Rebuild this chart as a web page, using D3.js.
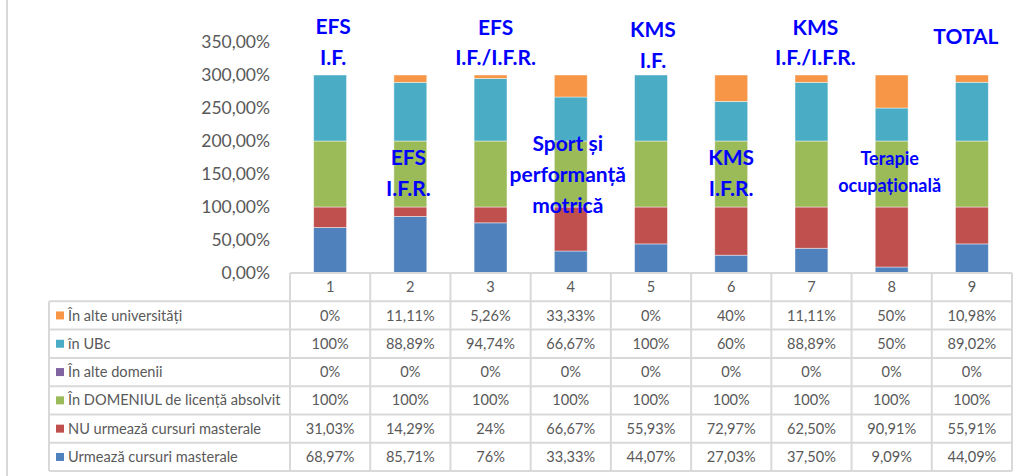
<!DOCTYPE html>
<html>
<head>
<meta charset="utf-8">
<script src="https://cdn.jsdelivr.net/npm/d3@7"></script>
<style>
  body { margin: 0; background: #fff; }
  text { font-family: Lato, "Open Sans", sans-serif; }
</style>
</head>
<body>
<div id="d3-container"></div>
<script>
/**
 * DATA
 * */
const categories = ["1", "2", "3", "4", "5", "6", "7", "8", "9"];

// stacking order, bottom to top
const seriesNames = [
  "Urmează cursuri masterale",
  "NU urmează cursuri masterale",
  "În DOMENIUL de licență absolvit",
  "În alte domenii",
  "în UBc",
  "În alte universități"
];

const urmeaza = [68.97, 85.71, 76, 33.33, 44.07, 27.03, 37.5, 9.09, 44.09];
const nuUrmeaza = [31.03, 14.29, 24, 66.67, 55.93, 72.97, 62.5, 90.91, 55.91];
const inDomeniu = [100, 100, 100, 100, 100, 100, 100, 100, 100];
const alteDomenii = [0, 0, 0, 0, 0, 0, 0, 0, 0];
const inUBc = [100, 88.89, 94.74, 66.67, 100, 60, 88.89, 50, 89.02];
const alteUniv = [0, 11.11, 5.26, 33.33, 0, 40, 11.11, 50, 10.98];

const seriesValues = [urmeaza, nuUrmeaza, inDomeniu, alteDomenii, inUBc, alteUniv];

const yTicks = [0, 50, 100, 150, 200, 250, 300, 350];

// blue annotation text over each column
const annotations = [
  ["EFS", "I.F."],
  ["EFS", "I.F.R."],
  ["EFS", "I.F./I.F.R."],
  ["Sport și", "performanță", "motrică"],
  ["KMS", "I.F."],
  ["KMS", "I.F.R."],
  ["KMS", "I.F./I.F.R."],
  ["Terapie", "ocupațională"],
  ["TOTAL"]
];

/**
 * CONSTANTS
 * */
const width = 1033,
  height = 476,
  plotLeft = 290,
  plotRight = 1012,
  plotTop = 42,
  plotBottom = 273,
  tableLeft = 49,
  rowH = 28.3,
  tableFont = 14.6;

const colors = ["#4F81BD", "#C0504D", "#9BBB59", "#8064A2", "#4BACC6", "#F79646"];
const gridColor = "#d9d9d9";
const textColor = "#595959";

// annotation placement: [x offset from column centre, centre y of first line, line gap, font size]
const annoLayout = [
  [3, 26, 31, 21],
  [-2, 157, 31, 21],
  [5, 27, 30, 21],
  [-3, 143, 31, 21],
  [2, 29, 31, 21],
  [0, 157, 31, 21],
  [4, 27, 30, 21],
  [-2, 159, 27, 18],
  [-6, 36, 31, 21]
];

const svg = d3.select("#d3-container")
  .append("svg")
  .attr("width", width)
  .attr("height", height);

// left frame line
svg.append("line")
  .attr("x1", 7).attr("x2", 7)
  .attr("y1", 0).attr("y2", height)
  .attr("stroke", gridColor)
  .attr("stroke-width", 2);

/**
 * SCALES
 * */
const xScale = d3.scaleBand()
  .domain(categories)
  .range([plotLeft, plotRight])
  .paddingInner(0.59)
  .paddingOuter(0.295);

const yScale = d3.scaleLinear()
  .domain([0, 350])
  .range([plotBottom, plotTop]);

const fmtAxis = d => d.toFixed(2).replace(".", ",") + "%";
const fmtCell = v => (Number.isInteger(v) ? v : v.toFixed(2).replace(".", ",")) + "%";

// Y AXIS
const yAxis = d3.axisLeft(yScale)
  .tickValues(yTicks)
  .tickSize(0)
  .tickPadding(20)
  .tickFormat(fmtAxis);

svg.append("g")
  .attr("class", "axis y-axis")
  .attr("transform", `translate(${plotLeft},0)`)
  .call(yAxis)
  .call(g => g.select(".domain").remove())
  .selectAll("text")
  .attr("fill", textColor)
  .attr("font-size", 17.5);

/**
 * STACKED BARS
 * */
const rows = categories.map((c, i) => {
  const r = { cat: c };
  seriesNames.forEach((s, j) => r[s] = seriesValues[j][i]);
  return r;
});

const stacked = d3.stack().keys(seriesNames)(rows);

svg.append("g")
  .selectAll("g")
  .data(stacked)
  .join("g")
  .attr("fill", (d, i) => colors[i])
  .selectAll("rect")
  .data(d => d)
  .join("rect")
  .attr("x", d => xScale(d.data.cat))
  .attr("width", xScale.bandwidth())
  .attr("y", d => yScale(d[1]))
  .attr("height", d => yScale(d[0]) - yScale(d[1]))
  .attr("stroke", "#fff")
  .attr("stroke-opacity", 0.55)
  .attr("stroke-width", d => d[1] > d[0] ? 0.8 : 0);

/**
 * DATA TABLE
 * */
const step = xScale.step();
const tableTop = plotBottom + rowH;
const tableBottom = tableTop + rowH * seriesNames.length;
const table = svg.append("g").attr("class", "data-table");

// horizontal lines
table.append("line")
  .attr("x1", plotLeft).attr("x2", plotRight)
  .attr("y1", plotBottom).attr("y2", plotBottom);
d3.range(seriesNames.length + 1).forEach(i => {
  table.append("line")
    .attr("x1", tableLeft).attr("x2", plotRight)
    .attr("y1", tableTop + i * rowH).attr("y2", tableTop + i * rowH);
});
// vertical lines
table.append("line")
  .attr("x1", tableLeft).attr("x2", tableLeft)
  .attr("y1", tableTop).attr("y2", tableBottom);
d3.range(categories.length + 1).forEach(i => {
  const x = plotLeft + i * step;
  table.append("line")
    .attr("x1", x).attr("x2", x)
    .attr("y1", plotBottom).attr("y2", tableBottom);
});
table.selectAll("line")
  .attr("stroke", gridColor)
  .attr("stroke-width", 2);

// header numbers
table.selectAll("text.head")
  .data(categories)
  .join("text")
  .attr("class", "head")
  .attr("x", d => xScale(d) + xScale.bandwidth() / 2)
  .attr("y", plotBottom + rowH / 2)
  .attr("dy", "0.35em")
  .attr("text-anchor", "middle")
  .attr("fill", textColor)
  .attr("font-size", tableFont)
  .text(d => d);

// table rows, top = last series
const tableOrder = d3.range(seriesNames.length).reverse();

tableOrder.forEach((si, r) => {
  const cy = tableTop + r * rowH + rowH / 2;
  table.append("rect")
    .attr("x", 56)
    .attr("y", cy - 4)
    .attr("width", 8)
    .attr("height", 8)
    .attr("fill", colors[si]);
  table.append("text")
    .attr("x", 68)
    .attr("y", cy)
    .attr("dy", "0.35em")
    .attr("fill", textColor)
    .attr("font-size", tableFont)
    .text(seriesNames[si]);
  table.selectAll("text.v" + si)
    .data(seriesValues[si])
    .join("text")
    .attr("class", "v" + si)
    .attr("x", (d, i) => xScale(categories[i]) + xScale.bandwidth() / 2)
    .attr("y", cy)
    .attr("dy", "0.35em")
    .attr("text-anchor", "middle")
    .attr("fill", textColor)
    .attr("font-size", tableFont)
    .text(d => fmtCell(d));
});

/**
 * ANNOTATIONS
 * */
annotations.forEach((lines, i) => {
  const [dx, y0, gap, fs] = annoLayout[i];
  const cx = xScale(categories[i]) + xScale.bandwidth() / 2 + dx;
  svg.append("g")
    .selectAll("text")
    .data(lines)
    .join("text")
    .attr("x", cx)
    .attr("y", (d, k) => y0 + k * gap)
    .attr("dy", "0.36em")
    .attr("text-anchor", "middle")
    .attr("font-weight", "bold")
    .attr("font-size", fs)
    .attr("fill", "#0000ff")
    .text(d => d);
});
</script>
</body>
</html>
